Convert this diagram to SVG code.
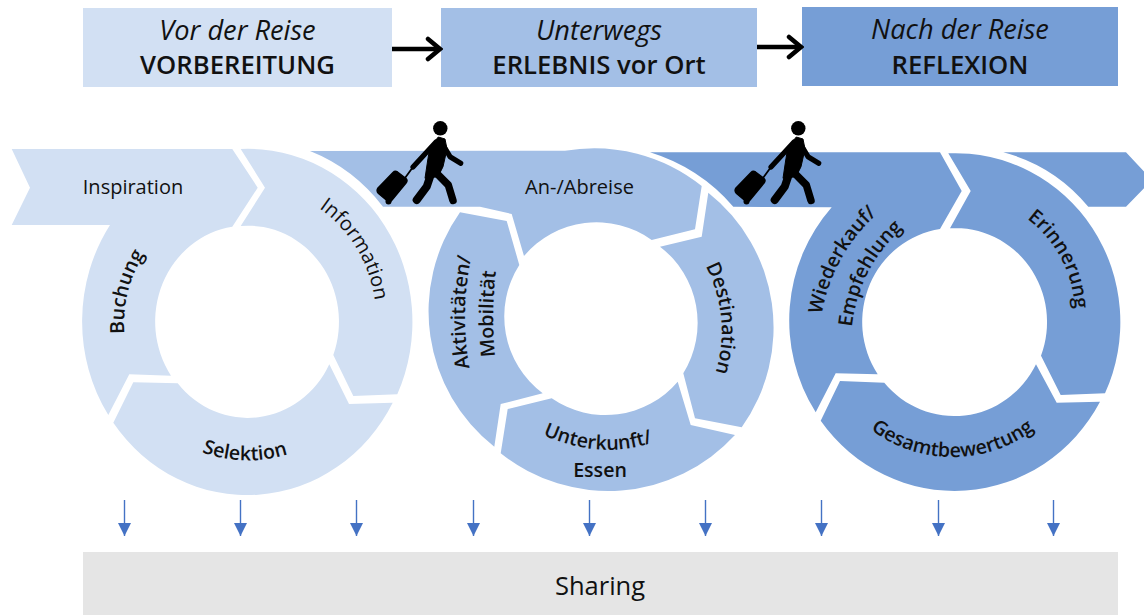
<svg xmlns="http://www.w3.org/2000/svg" width="1144" height="615" viewBox="0 0 1144 615">
<style>
text{font-family:"Open Sans","Noto Sans","Liberation Sans",sans-serif;fill:#111;text-anchor:middle}
.l{fill:#d2e0f3}.m{fill:#a3bfe6}.d{fill:#769ed6}
.it{font-size:27.200px;font-style:italic}
.hd{font-size:25.700px;font-weight:600}
.r{font-size:20px}
.s{font-size:19.600px;font-weight:600}
.ar{stroke:#4472c4;stroke-width:1.4;fill:none;marker-end:url(#dn)}
.top{stroke:#000;stroke-width:4.500;fill:none;marker-end:url(#chev)}
.wk{stroke:#000;fill:none;stroke-linecap:round;stroke-linejoin:round}
</style>
<defs>
<marker id="dn" markerUnits="userSpaceOnUse" markerWidth="13" markerHeight="13" refX="13" refY="6.5" orient="auto" viewBox="0 0 13 13"><path d="M0 0 L13 6.5 L0 13Z" fill="#4472c4"/></marker>
<marker id="chev" markerUnits="userSpaceOnUse" markerWidth="18" markerHeight="26" refX="15" refY="13" orient="auto" viewBox="0 0 18 26"><path d="M3 3 L15 13 L3 23" fill="none" stroke="#000" stroke-width="4.500" stroke-linecap="round"/></marker>
<g id="walker">
<circle cx="440.3" cy="128.3" r="7.200" fill="#000"/>
<path class="wk" stroke-width="5.200" d="M436 142 L413 167"/>
<path class="wk" stroke-width="1.800" d="M413 167 L405 178"/>
<path class="wk" stroke-width="5.200" d="M444 146.700 L450 156.700 L460.700 163.300"/>
<path d="M430 147 L438.300 137 L445 139 L447 149 L443 166.700 L438 176.700 L425 178.300 L428 158.300Z" fill="#000" stroke="#000" stroke-linejoin="round"/>
<path class="wk" stroke-width="8" d="M431 174 L426.700 186.700 L416.700 200"/>
<path class="wk" stroke-width="7.500" d="M435 171.700 L448.300 185 L453 200.500"/>
<path d="M378 188 L393 172.500 Q395 170.500 397.500 172 L406 178.500 Q408 180.500 406 183 L392 200 Q390 202.500 387.500 201 L378.500 193.500 Q376 191 378 188Z" fill="#000" stroke="#000" stroke-width="1.500" stroke-linejoin="round"/>
<circle cx="388.500" cy="201.500" r="3" fill="#000"/>
</g>
<path id="pInfo" d="M311 203 A128 135 0 0 1 376 310"/>
<path id="pBuch" d="M125 340 A122 126 0 0 1 148 249"/>
<path id="pSel" d="M186 445 A135 138 0 0 0 304 448"/>
<path id="pAkt" d="M471 375 Q458 312 473 250"/>
<path id="pMob" d="M496 364 Q490 312 497 264"/>
<path id="pDes" d="M702 259 Q735 318 713 380"/>
<path id="pUnt" d="M539 433 Q600 462 657 441"/>
<path id="pWie" d="M822 313 Q833 255 876 215"/>
<path id="pEmp" d="M852 326 Q859 268 902 229"/>
<path id="pEri" d="M1026 218 A118 120 0 0 1 1075 310"/>
<path id="pGes" d="M864 424 A135 135 0 0 0 1041 424"/>
</defs>

<g id="phase-vorbereitung"><rect x="83" y="8" width="309" height="79" class="l"/><text x="237.500" y="40" class="it">Vor der Reise</text><text x="237.500" y="74" class="hd">VORBEREITUNG</text></g>
<g id="phase-erlebnis"><rect x="441" y="8" width="316" height="79" class="m"/><text x="599" y="40" class="it">Unterwegs</text><text x="599" y="74" class="hd">ERLEBNIS vor Ort</text></g>
<g id="phase-reflexion"><rect x="802" y="7" width="316" height="79" class="d"/><text x="960" y="39" class="it">Nach der Reise</text><text x="960" y="74" class="hd">REFLEXION</text></g>

<g id="band-tail"><path class="d" d="M1003.300 152.300 L1126 152.300 L1152 180 L1126 206.700 L1088.300 206.700 A165 170 0 0 0 1003.300 152.300Z"/></g>

<g id="inspiration"><path class="l" d="M11.700 149 L232.300 149 L257.700 187.700 L232.300 226.700 A91 96 0 0 0 171 375.700 L129.300 374.300 L108.300 415 A164.500 173 0 0 1 110 225 L11.700 225 L30 187.700Z"/><text x="133" y="194" class="r">Inspiration</text><text class="s"><textPath href="#pBuch" startOffset="50%">Buchung</textPath></text></g>
<g id="information"><path class="l" d="M240.700 149 A164.500 173 0 0 1 397.300 394.300 L353.300 396 L333.300 355 A91 96 0 0 0 240.700 226 L265 187.700Z"/><text class="r"><textPath href="#pInfo" startOffset="50%">Information</textPath></text></g>
<g id="selektion"><path class="l" d="M392.700 402.700 A164.500 173 0 0 1 113.300 422.700 L133.300 382.300 L177.700 383.300 A91 96 0 0 0 329.300 364.300 L349 404Z"/><text class="s"><textPath href="#pSel" startOffset="50%">Selektion</textPath></text></g>

<g id="anreise"><path class="m" d="M310 151 L565 150.700 A172 172 0 0 1 701.700 186 L695 229.300 L651.700 240 A95 95.500 0 0 0 524 256 L511.700 214 L480 206.700 L383 206.700 A172 180 0 0 0 310 151Z"/><text x="579.500" y="194" class="r">An-/Abreise</text></g>
<g id="destination"><path class="m" d="M708.300 192.700 A172 172 0 0 1 741.700 427.300 L695 418.300 L683.300 373.300 A95 95.500 0 0 0 660 246.700 L701.700 236.700Z"/><text class="s"><textPath href="#pDes" startOffset="50%">Destination</textPath></text></g>
<g id="unterkunft"><path class="m" d="M735 435 A172 172 0 0 1 500.700 453.300 L507.700 409 L551.700 398.300 A95 95.500 0 0 0 677.700 381.700 L690.700 425Z"/><text class="s"><textPath href="#pUnt" startOffset="50%">Unterkunft/</textPath></text><text x="600" y="477" class="s">Essen</text></g>
<g id="aktivitaeten"><path class="m" d="M542.700 393.300 L500.700 404 L494.300 446.700 A172 172 0 0 1 460 212.300 L506.700 221 L519.300 265 A95 95.500 0 0 0 542.700 393.300Z"/><text class="s"><textPath href="#pAkt" startOffset="50%">Aktivitäten/</textPath></text><text class="s"><textPath href="#pMob" startOffset="50%">Mobilität</textPath></text></g>

<g id="wiederkauf"><path class="d" d="M650 152.300 L940 152.300 L961.700 191 L940 229 A91.500 94 0 0 0 877.700 374.300 L835.700 373.300 L815.700 412.300 A165 169 0 0 1 831.700 207.300 L733.300 206.700 A180 180 0 0 0 650 152.300Z"/><text class="s"><textPath href="#pWie" startOffset="50%">Wiederkauf/</textPath></text><text class="s"><textPath href="#pEmp" startOffset="50%">Empfehlung</textPath></text></g>
<g id="erinnerung"><path class="d" d="M948.300 153.300 A165 169 0 0 1 1105 393.300 L1060.700 395 L1041 355.700 A91.500 94 0 0 0 950 228.300 L970.700 191Z"/><text class="s"><textPath href="#pEri" startOffset="50%">Erinnerung</textPath></text></g>
<g id="gesamtbewertung"><path class="d" d="M1100 401.700 A165 169 0 0 1 820.700 420.700 L840 381 L884.300 382.700 A91.500 94 0 0 0 1036 364.300 L1056.700 402.700Z"/><text class="s"><textPath href="#pGes" startOffset="50%">Gesamtbewertung</textPath></text></g>

<g id="traveller-1"><use href="#walker"/></g>
<g id="traveller-2"><use href="#walker" x="358"/></g>

<g id="sharing"><rect x="83" y="552" width="1035" height="63" fill="#e5e5e5"/><text x="600" y="595" font-size="25.500">Sharing</text></g>

<g id="connectors">
<path class="top" d="M392 49 L440 49"/>
<path class="top" d="M757 47 L801 47"/>
<path class="ar" d="M124.500 500 V536"/>
<path class="ar" d="M240.500 500 V536"/>
<path class="ar" d="M356.500 500 V536"/>
<path class="ar" d="M473.500 500 V536"/>
<path class="ar" d="M589.500 500 V536"/>
<path class="ar" d="M705.500 500 V536"/>
<path class="ar" d="M821.500 500 V536"/>
<path class="ar" d="M938.500 500 V536"/>
<path class="ar" d="M1053.500 500 V536"/>
</g>
</svg>
